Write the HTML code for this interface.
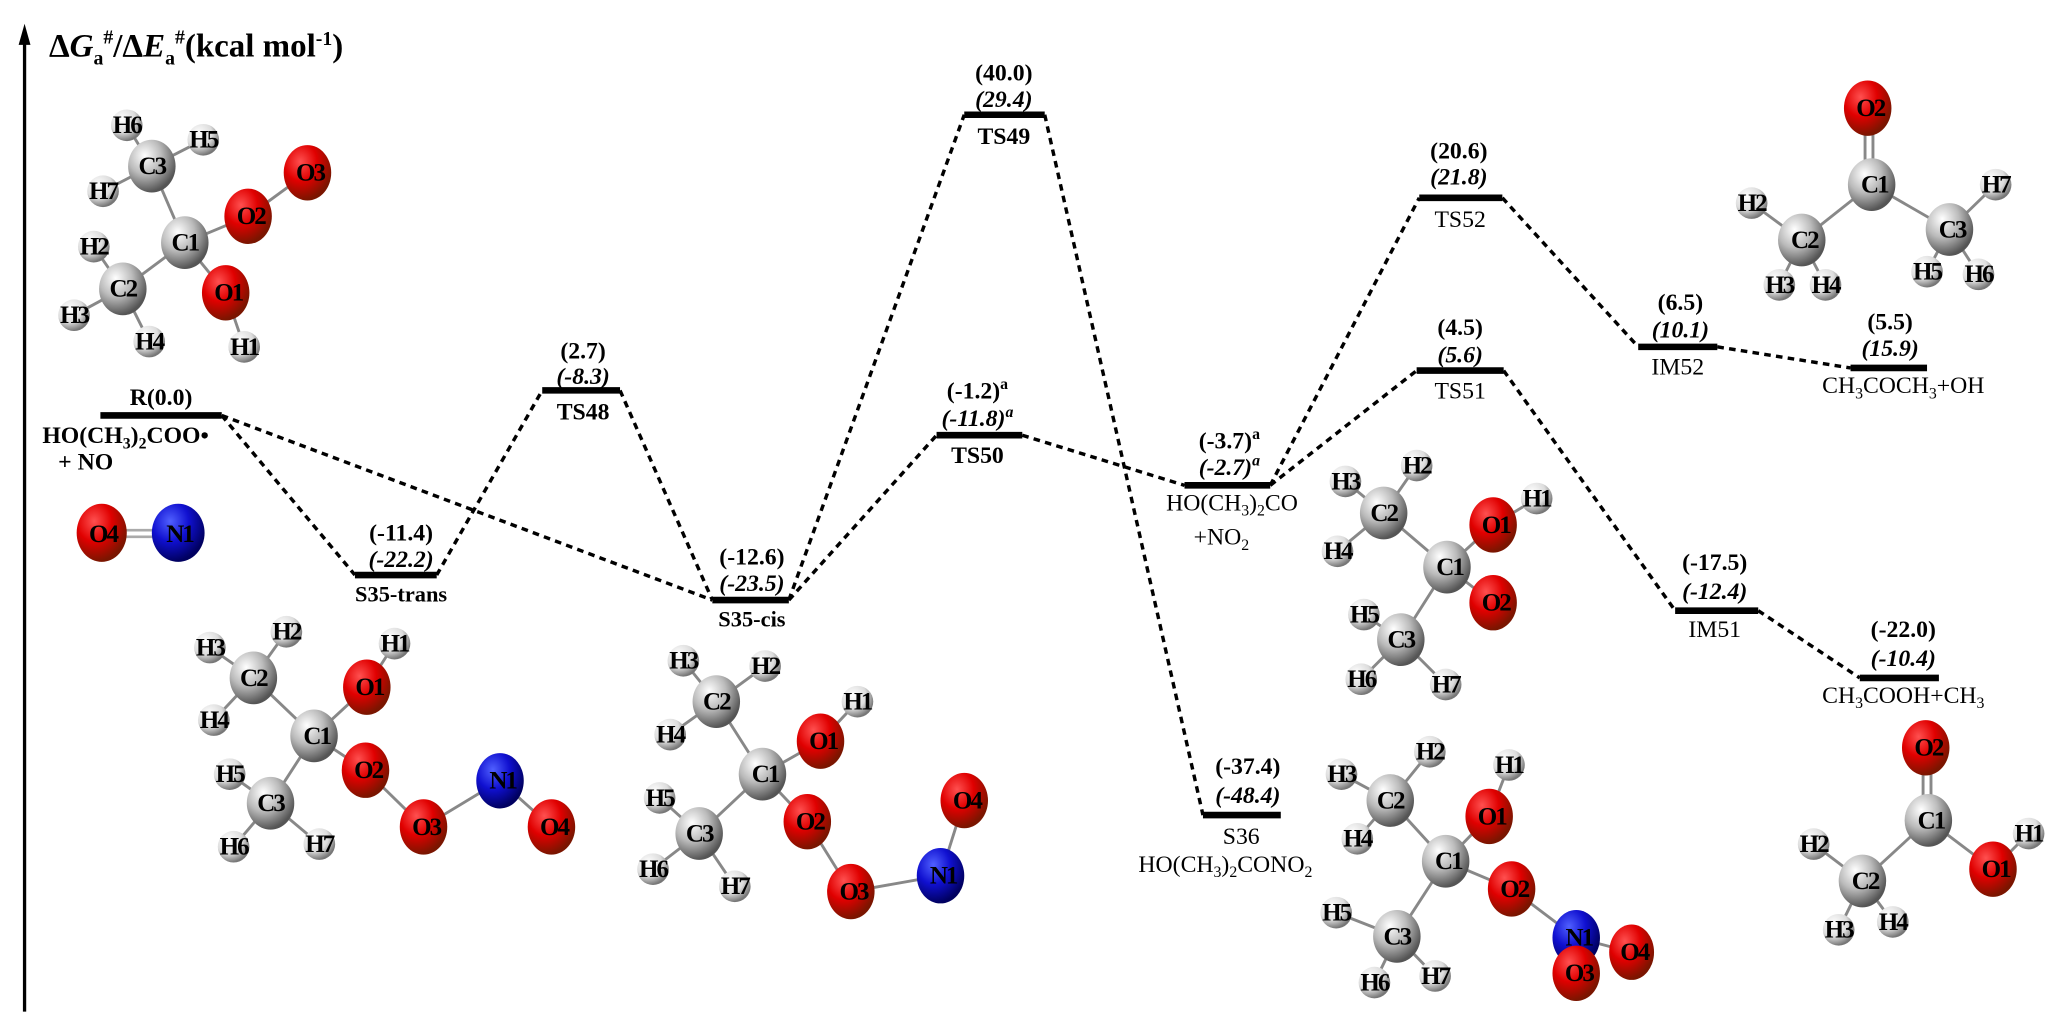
<!DOCTYPE html>
<html><head><meta charset="utf-8"><style>
html,body{margin:0;padding:0;background:#fff;}
svg{display:block;}
text{font-family:"Liberation Serif",serif;font-weight:bold;fill:#000;}
.v{font-size:18px;text-anchor:middle;}
.i{font-style:italic;}
.a{font-size:19px;text-anchor:middle;letter-spacing:-1.5px;}
.b{stroke:#000;stroke-width:5;}
.d{stroke:#000;stroke-width:2.6;stroke-dasharray:5 4;fill:none;}
.bd{stroke:#888;stroke-width:2.2;}
</style></head><body>
<svg width="2067" height="1034" viewBox="0 0 1567 784" xmlns="http://www.w3.org/2000/svg">
<defs>
<radialGradient id="gC" cx="35%" cy="30%" r="70%"><stop offset="0" stop-color="#fff"/><stop offset="0.5" stop-color="#bbb"/><stop offset="1" stop-color="#555"/></radialGradient>
<radialGradient id="gO" cx="35%" cy="30%" r="70%"><stop offset="0" stop-color="#ff5050"/><stop offset="0.5" stop-color="#e00000"/><stop offset="1" stop-color="#7a1500"/></radialGradient>
<radialGradient id="gN" cx="35%" cy="30%" r="70%"><stop offset="0" stop-color="#5060ff"/><stop offset="0.5" stop-color="#1010d0"/><stop offset="1" stop-color="#000060"/></radialGradient>
<radialGradient id="gH" cx="35%" cy="30%" r="70%"><stop offset="0" stop-color="#fff"/><stop offset="0.6" stop-color="#ddd"/><stop offset="1" stop-color="#777"/></radialGradient>
</defs>

<line x1="18.5" y1="30" x2="18.5" y2="767" stroke="#000" stroke-width="2.5"/>
<polygon points="18.5,18 14,34 23,34" fill="#000"/>
<text x="37" y="43" style="font-size:25px">Δ<tspan font-style="italic">G</tspan><tspan style="font-size:15px" dy="6">a</tspan><tspan style="font-size:15px" dy="-16">#</tspan><tspan dy="10">/Δ</tspan><tspan font-style="italic">E</tspan><tspan style="font-size:15px" dy="6">a</tspan><tspan style="font-size:15px" dy="-16">#</tspan><tspan dy="10">(kcal mol</tspan><tspan style="font-size:15px" dy="-9">-1</tspan><tspan dy="9">)</tspan></text>

<line class="d" x1="168" y1="315" x2="269" y2="436"/>
<line class="d" x1="168" y1="315" x2="540" y2="455"/>
<line class="d" x1="331" y1="436" x2="411" y2="296"/>
<line class="d" x1="470" y1="296" x2="540" y2="455"/>
<line class="d" x1="598" y1="455" x2="731" y2="87"/>
<line class="d" x1="598" y1="455" x2="710" y2="330"/>
<line class="d" x1="792" y1="87" x2="912" y2="618"/>
<line class="d" x1="775" y1="330" x2="898" y2="368"/>
<line class="d" x1="963" y1="368" x2="1076" y2="150"/>
<line class="d" x1="963" y1="368" x2="1074" y2="281"/>
<line class="d" x1="1139" y1="150" x2="1242" y2="263"/>
<line class="d" x1="1302" y1="263" x2="1403" y2="279"/>
<line class="d" x1="1140" y1="281" x2="1270" y2="463"/>
<line class="d" x1="1333" y1="463" x2="1410" y2="514"/>

<line class="b" x1="76" y1="315" x2="168" y2="315"/>
<text class="v" x="122" y="307">R(0.0)</text>
<text x="32" y="336" style="font-size:18px">HO(CH<tspan style="font-size:12px" dy="4">3</tspan><tspan dy="-4">)</tspan><tspan style="font-size:12px" dy="4">2</tspan><tspan dy="-4">COO•</tspan></text>
<text x="44" y="356" style="font-size:18px">+ NO</text>

<line class="b" x1="269" y1="436" x2="331" y2="436"/>
<text class="v" x="304" y="410">(-11.4)</text><text class="v i" x="304" y="430">(-22.2)</text>
<text class="v" x="304" y="456" style="font-size:17px">S35-trans</text>

<line class="b" x1="411" y1="296" x2="470" y2="296"/>
<text class="v" x="442" y="272">(2.7)</text><text class="v i" x="442" y="291">(-8.3)</text>
<text class="v" x="442" y="318">TS48</text>

<line class="b" x1="540" y1="455" x2="598" y2="455"/>
<text class="v" x="570" y="428">(-12.6)</text><text class="v i" x="570" y="448">(-23.5)</text>
<text class="v" x="570" y="475" style="font-size:17px">S35-cis</text>

<line class="b" x1="731" y1="87" x2="792" y2="87"/>
<text class="v" x="761" y="61">(40.0)</text><text class="v i" x="761" y="81">(29.4)</text>
<text class="v" x="761" y="109">TS49</text>

<line class="b" x1="710" y1="330" x2="775" y2="330"/>
<text class="v" x="741" y="302">(-1.2)<tspan style="font-size:12px" dy="-7">a</tspan></text>
<text class="v i" x="741" y="323">(-11.8)<tspan style="font-size:12px" dy="-7">a</tspan></text>
<text class="v" x="741" y="351">TS50</text>

<line class="b" x1="898" y1="368" x2="963" y2="368"/>
<text class="v" x="932" y="340">(-3.7)<tspan style="font-size:12px" dy="-7">a</tspan></text>
<text class="v i" x="932" y="360">(-2.7)<tspan style="font-size:12px" dy="-7">a</tspan></text>
<text class="v" x="934" y="387" style="font-weight:normal">HO(CH<tspan style="font-size:12px" dy="4">3</tspan><tspan dy="-4">)</tspan><tspan style="font-size:12px" dy="4">2</tspan><tspan dy="-4">CO</tspan></text>
<text class="v" x="926" y="413" style="font-weight:normal">+NO<tspan style="font-size:12px" dy="4">2</tspan></text>

<line class="b" x1="912" y1="618" x2="971" y2="618"/>
<text class="v" x="946" y="587">(-37.4)</text><text class="v i" x="946" y="609">(-48.4)</text>
<text class="v" x="941" y="640" style="font-weight:normal">S36</text>
<text class="v" x="929" y="661" style="font-weight:normal">HO(CH<tspan style="font-size:12px" dy="4">3</tspan><tspan dy="-4">)</tspan><tspan style="font-size:12px" dy="4">2</tspan><tspan dy="-4">CONO</tspan><tspan style="font-size:12px" dy="4">2</tspan></text>

<line class="b" x1="1076" y1="150" x2="1139" y2="150"/>
<text class="v" x="1106" y="120">(20.6)</text><text class="v i" x="1106" y="140">(21.8)</text>
<text class="v" x="1107" y="172" style="font-weight:normal">TS52</text>

<line class="b" x1="1074" y1="281" x2="1140" y2="281"/>
<text class="v" x="1107" y="254">(4.5)</text><text class="v i" x="1107" y="275">(5.6)</text>
<text class="v" x="1107" y="302" style="font-weight:normal">TS51</text>

<line class="b" x1="1242" y1="263" x2="1302" y2="263"/>
<text class="v" x="1274" y="235">(6.5)</text><text class="v i" x="1274" y="256">(10.1)</text>
<text class="v" x="1272" y="284" style="font-weight:normal">IM52</text>

<line class="b" x1="1403" y1="279" x2="1461" y2="279"/>
<text class="v" x="1433" y="250">(5.5)</text><text class="v i" x="1433" y="270">(15.9)</text>
<text class="v" x="1443" y="298" style="font-weight:normal">CH<tspan style="font-size:12px" dy="4">3</tspan><tspan dy="-4">COCH</tspan><tspan style="font-size:12px" dy="4">3</tspan><tspan dy="-4">+OH</tspan></text>

<line class="b" x1="1270" y1="463" x2="1333" y2="463"/>
<text class="v" x="1300" y="432">(-17.5)</text><text class="v i" x="1300" y="454">(-12.4)</text>
<text class="v" x="1300" y="483" style="font-weight:normal">IM51</text>

<line class="b" x1="1410" y1="514" x2="1470" y2="514"/>
<text class="v" x="1443" y="483">(-22.0)</text><text class="v i" x="1443" y="505">(-10.4)</text>
<text class="v" x="1443" y="533" style="font-weight:normal">CH<tspan style="font-size:12px" dy="4">3</tspan><tspan dy="-4">COOH+CH</tspan><tspan style="font-size:12px" dy="4">3</tspan></text>

<g>
<line class="bd" x1="115" y1="126" x2="96" y2="95"/><line class="bd" x1="115" y1="126" x2="154" y2="106"/><line class="bd" x1="115" y1="126" x2="78" y2="145"/><line class="bd" x1="115" y1="126" x2="140" y2="184"/>
<line class="bd" x1="140" y1="184" x2="188" y2="164"/><line class="bd" x1="188" y1="164" x2="233" y2="131"/><line class="bd" x1="140" y1="184" x2="93" y2="219"/><line class="bd" x1="140" y1="184" x2="171" y2="222"/>
<line class="bd" x1="93" y1="219" x2="71" y2="187"/><line class="bd" x1="93" y1="219" x2="56" y2="239"/><line class="bd" x1="93" y1="219" x2="113" y2="259"/><line class="bd" x1="171" y1="222" x2="185" y2="263"/>
<circle cx="96" cy="95" r="12" fill="url(#gH)"/><circle cx="154" cy="106" r="12" fill="url(#gH)"/><circle cx="78" cy="145" r="12" fill="url(#gH)"/>
<circle cx="71" cy="187" r="12" fill="url(#gH)"/><circle cx="56" cy="239" r="12" fill="url(#gH)"/><circle cx="113" cy="259" r="12" fill="url(#gH)"/><circle cx="185" cy="263" r="12" fill="url(#gH)"/>
<ellipse cx="115" cy="126" rx="18" ry="20" fill="url(#gC)"/><ellipse cx="140" cy="184" rx="18" ry="20" fill="url(#gC)"/><ellipse cx="93" cy="219" rx="18" ry="20" fill="url(#gC)"/>
<ellipse cx="233" cy="131" rx="18" ry="21" fill="url(#gO)"/><ellipse cx="188" cy="164" rx="18" ry="21" fill="url(#gO)"/><ellipse cx="171" cy="222" rx="18" ry="21" fill="url(#gO)"/>
<text class="a" x="96" y="101">H6</text><text class="a" x="154" y="112">H5</text><text class="a" x="78" y="151">H7</text><text class="a" x="71" y="193">H2</text><text class="a" x="56" y="245">H3</text><text class="a" x="113" y="265">H4</text><text class="a" x="185" y="269">H1</text>
<text class="a" x="115" y="132">C3</text><text class="a" x="140" y="190">C1</text><text class="a" x="93" y="225">C2</text>
<text class="a" x="235" y="137">O3</text><text class="a" x="190" y="170">O2</text><text class="a" x="173" y="228">O1</text>
</g>

<line x1="77" y1="402" x2="135" y2="402" stroke="#aaa" stroke-width="2"/><line x1="77" y1="407" x2="135" y2="407" stroke="#aaa" stroke-width="2"/>
<ellipse cx="77" cy="404" rx="19" ry="22" fill="url(#gO)"/><ellipse cx="135" cy="404" rx="20" ry="22" fill="url(#gN)"/>
<text class="a" x="78" y="411">O4</text><text class="a" x="136" y="411">N1</text>

<g>
<line class="bd" x1="192" y1="514" x2="159" y2="491"/><line class="bd" x1="192" y1="514" x2="217" y2="479"/><line class="bd" x1="192" y1="514" x2="162" y2="546"/><line class="bd" x1="192" y1="514" x2="238" y2="558"/>
<line class="bd" x1="238" y1="558" x2="278" y2="521"/><line class="bd" x1="278" y1="521" x2="299" y2="488"/><line class="bd" x1="238" y1="558" x2="277" y2="584"/><line class="bd" x1="238" y1="558" x2="205" y2="609"/>
<line class="bd" x1="277" y1="584" x2="321" y2="627"/><line class="bd" x1="321" y1="627" x2="379" y2="592"/><line class="bd" x1="379" y1="592" x2="418" y2="627"/>
<line class="bd" x1="205" y1="609" x2="174" y2="587"/><line class="bd" x1="205" y1="609" x2="177" y2="642"/><line class="bd" x1="205" y1="609" x2="242" y2="640"/>
<circle cx="159" cy="491" r="12" fill="url(#gH)"/><circle cx="217" cy="479" r="12" fill="url(#gH)"/><circle cx="299" cy="488" r="12" fill="url(#gH)"/><circle cx="162" cy="546" r="12" fill="url(#gH)"/><circle cx="174" cy="587" r="12" fill="url(#gH)"/><circle cx="177" cy="642" r="12" fill="url(#gH)"/><circle cx="242" cy="640" r="12" fill="url(#gH)"/>
<ellipse cx="192" cy="514" rx="18" ry="20" fill="url(#gC)"/><ellipse cx="238" cy="558" rx="18" ry="20" fill="url(#gC)"/><ellipse cx="205" cy="609" rx="18" ry="20" fill="url(#gC)"/>
<ellipse cx="278" cy="521" rx="18" ry="21" fill="url(#gO)"/><ellipse cx="277" cy="584" rx="18" ry="21" fill="url(#gO)"/><ellipse cx="321" cy="627" rx="18" ry="21" fill="url(#gO)"/><ellipse cx="418" cy="627" rx="18" ry="21" fill="url(#gO)"/>
<ellipse cx="379" cy="592" rx="18" ry="21" fill="url(#gN)"/>
<text class="a" x="159" y="497">H3</text><text class="a" x="217" y="485">H2</text><text class="a" x="299" y="494">H1</text><text class="a" x="162" y="552">H4</text><text class="a" x="174" y="593">H5</text><text class="a" x="177" y="648">H6</text><text class="a" x="242" y="646">H7</text>
<text class="a" x="192" y="520">C2</text><text class="a" x="240" y="564">C1</text><text class="a" x="205" y="615">C3</text>
<text class="a" x="280" y="527">O1</text><text class="a" x="279" y="590">O2</text><text class="a" x="323" y="633">O3</text><text class="a" x="420" y="633">O4</text><text class="a" x="381" y="598">N1</text>
</g>

<g>
<line class="bd" x1="543" y1="532" x2="518" y2="501"/><line class="bd" x1="543" y1="532" x2="580" y2="505"/><line class="bd" x1="543" y1="532" x2="508" y2="557"/><line class="bd" x1="543" y1="532" x2="578" y2="587"/>
<line class="bd" x1="578" y1="587" x2="622" y2="562"/><line class="bd" x1="622" y1="562" x2="650" y2="532"/><line class="bd" x1="578" y1="587" x2="612" y2="623"/><line class="bd" x1="578" y1="587" x2="530" y2="632"/>
<line class="bd" x1="612" y1="623" x2="645" y2="676"/><line class="bd" x1="645" y1="676" x2="713" y2="664"/><line class="bd" x1="713" y1="664" x2="731" y2="607"/>
<line class="bd" x1="530" y1="632" x2="500" y2="605"/><line class="bd" x1="530" y1="632" x2="495" y2="659"/><line class="bd" x1="530" y1="632" x2="557" y2="672"/>
<circle cx="518" cy="501" r="12" fill="url(#gH)"/><circle cx="580" cy="505" r="12" fill="url(#gH)"/><circle cx="650" cy="532" r="12" fill="url(#gH)"/><circle cx="508" cy="557" r="12" fill="url(#gH)"/><circle cx="500" cy="605" r="12" fill="url(#gH)"/><circle cx="495" cy="659" r="12" fill="url(#gH)"/><circle cx="557" cy="672" r="12" fill="url(#gH)"/>
<ellipse cx="543" cy="532" rx="18" ry="20" fill="url(#gC)"/><ellipse cx="578" cy="587" rx="18" ry="20" fill="url(#gC)"/><ellipse cx="530" cy="632" rx="18" ry="20" fill="url(#gC)"/>
<ellipse cx="622" cy="562" rx="18" ry="21" fill="url(#gO)"/><ellipse cx="612" cy="623" rx="18" ry="21" fill="url(#gO)"/><ellipse cx="645" cy="676" rx="18" ry="21" fill="url(#gO)"/><ellipse cx="731" cy="607" rx="18" ry="21" fill="url(#gO)"/>
<ellipse cx="713" cy="664" rx="18" ry="21" fill="url(#gN)"/>
<text class="a" x="518" y="507">H3</text><text class="a" x="580" y="511">H2</text><text class="a" x="650" y="538">H1</text><text class="a" x="508" y="563">H4</text><text class="a" x="500" y="611">H5</text><text class="a" x="495" y="665">H6</text><text class="a" x="557" y="678">H7</text>
<text class="a" x="543" y="538">C2</text><text class="a" x="580" y="593">C1</text><text class="a" x="530" y="638">C3</text>
<text class="a" x="624" y="568">O1</text><text class="a" x="614" y="629">O2</text><text class="a" x="647" y="682">O3</text><text class="a" x="733" y="613">O4</text><text class="a" x="715" y="670">N1</text>
</g>

<g>
<line class="bd" x1="1049" y1="389" x2="1020" y2="365"/><line class="bd" x1="1049" y1="389" x2="1074" y2="353"/><line class="bd" x1="1049" y1="389" x2="1014" y2="418"/><line class="bd" x1="1049" y1="389" x2="1097" y2="430"/>
<line class="bd" x1="1097" y1="430" x2="1132" y2="398"/><line class="bd" x1="1132" y1="398" x2="1165" y2="378"/><line class="bd" x1="1097" y1="430" x2="1132" y2="457"/><line class="bd" x1="1097" y1="430" x2="1062" y2="485"/>
<line class="bd" x1="1062" y1="485" x2="1034" y2="466"/><line class="bd" x1="1062" y1="485" x2="1032" y2="515"/><line class="bd" x1="1062" y1="485" x2="1096" y2="519"/>
<circle cx="1020" cy="365" r="12" fill="url(#gH)"/><circle cx="1074" cy="353" r="12" fill="url(#gH)"/><circle cx="1165" cy="378" r="12" fill="url(#gH)"/><circle cx="1014" cy="418" r="12" fill="url(#gH)"/><circle cx="1034" cy="466" r="12" fill="url(#gH)"/><circle cx="1032" cy="515" r="12" fill="url(#gH)"/><circle cx="1096" cy="519" r="12" fill="url(#gH)"/>
<ellipse cx="1049" cy="389" rx="18" ry="20" fill="url(#gC)"/><ellipse cx="1097" cy="430" rx="18" ry="20" fill="url(#gC)"/><ellipse cx="1062" cy="485" rx="18" ry="20" fill="url(#gC)"/>
<ellipse cx="1132" cy="398" rx="18" ry="21" fill="url(#gO)"/><ellipse cx="1132" cy="457" rx="18" ry="21" fill="url(#gO)"/>
<text class="a" x="1020" y="371">H3</text><text class="a" x="1074" y="359">H2</text><text class="a" x="1165" y="384">H1</text><text class="a" x="1014" y="424">H4</text><text class="a" x="1034" y="472">H5</text><text class="a" x="1032" y="521">H6</text><text class="a" x="1096" y="525">H7</text>
<text class="a" x="1049" y="395">C2</text><text class="a" x="1099" y="436">C1</text><text class="a" x="1062" y="491">C3</text>
<text class="a" x="1134" y="404">O1</text><text class="a" x="1134" y="463">O2</text>
</g>

<g>
<line class="bd" x1="1054" y1="607" x2="1017" y2="587"/><line class="bd" x1="1054" y1="607" x2="1084" y2="570"/><line class="bd" x1="1054" y1="607" x2="1029" y2="636"/><line class="bd" x1="1054" y1="607" x2="1096" y2="653"/>
<line class="bd" x1="1096" y1="653" x2="1129" y2="619"/><line class="bd" x1="1129" y1="619" x2="1144" y2="580"/><line class="bd" x1="1096" y1="653" x2="1146" y2="674"/><line class="bd" x1="1096" y1="653" x2="1059" y2="710"/>
<line class="bd" x1="1146" y1="674" x2="1195" y2="711"/><line class="bd" x1="1195" y1="711" x2="1237" y2="722"/>
<line class="bd" x1="1059" y1="710" x2="1013" y2="692"/><line class="bd" x1="1059" y1="710" x2="1042" y2="745"/><line class="bd" x1="1059" y1="710" x2="1088" y2="740"/>
<circle cx="1084" cy="570" r="12" fill="url(#gH)"/><circle cx="1017" cy="587" r="12" fill="url(#gH)"/><circle cx="1144" cy="580" r="12" fill="url(#gH)"/><circle cx="1029" cy="636" r="12" fill="url(#gH)"/><circle cx="1013" cy="692" r="12" fill="url(#gH)"/><circle cx="1042" cy="745" r="12" fill="url(#gH)"/><circle cx="1088" cy="740" r="12" fill="url(#gH)"/>
<ellipse cx="1054" cy="607" rx="18" ry="20" fill="url(#gC)"/><ellipse cx="1096" cy="653" rx="18" ry="20" fill="url(#gC)"/><ellipse cx="1059" cy="710" rx="18" ry="20" fill="url(#gC)"/>
<ellipse cx="1129" cy="619" rx="18" ry="21" fill="url(#gO)"/><ellipse cx="1146" cy="674" rx="18" ry="21" fill="url(#gO)"/>
<ellipse cx="1195" cy="711" rx="18" ry="21" fill="url(#gN)"/><ellipse cx="1237" cy="722" rx="17" ry="21" fill="url(#gO)"/><ellipse cx="1195" cy="738" rx="18" ry="21" fill="url(#gO)"/>
<text class="a" x="1084" y="576">H2</text><text class="a" x="1017" y="593">H3</text><text class="a" x="1144" y="586">H1</text><text class="a" x="1029" y="642">H4</text><text class="a" x="1013" y="698">H5</text><text class="a" x="1042" y="751">H6</text><text class="a" x="1088" y="746">H7</text>
<text class="a" x="1054" y="613">C2</text><text class="a" x="1098" y="659">C1</text><text class="a" x="1059" y="716">C3</text>
<text class="a" x="1131" y="625">O1</text><text class="a" x="1148" y="680">O2</text><text class="a" x="1197" y="717">N1</text><text class="a" x="1239" y="728">O4</text><text class="a" x="1197" y="744">O3</text>
</g>

<g>
<line class="bd" x1="1414" y1="82" x2="1414" y2="140"/><line class="bd" x1="1420" y1="82" x2="1420" y2="140"/>
<line class="bd" x1="1419" y1="140" x2="1366" y2="182"/><line class="bd" x1="1419" y1="140" x2="1478" y2="174"/>
<line class="bd" x1="1366" y1="182" x2="1328" y2="154"/><line class="bd" x1="1366" y1="182" x2="1349" y2="216"/><line class="bd" x1="1366" y1="182" x2="1384" y2="216"/>
<line class="bd" x1="1478" y1="174" x2="1513" y2="140"/><line class="bd" x1="1478" y1="174" x2="1461" y2="206"/><line class="bd" x1="1478" y1="174" x2="1500" y2="208"/>
<circle cx="1328" cy="154" r="12" fill="url(#gH)"/><circle cx="1349" cy="216" r="12" fill="url(#gH)"/><circle cx="1384" cy="216" r="12" fill="url(#gH)"/><circle cx="1513" cy="140" r="12" fill="url(#gH)"/><circle cx="1461" cy="206" r="12" fill="url(#gH)"/><circle cx="1500" cy="208" r="12" fill="url(#gH)"/>
<ellipse cx="1419" cy="140" rx="18" ry="20" fill="url(#gC)"/><ellipse cx="1366" cy="182" rx="18" ry="20" fill="url(#gC)"/><ellipse cx="1478" cy="174" rx="18" ry="20" fill="url(#gC)"/>
<ellipse cx="1416" cy="82" rx="18" ry="21" fill="url(#gO)"/>
<text class="a" x="1328" y="160">H2</text><text class="a" x="1349" y="222">H3</text><text class="a" x="1384" y="222">H4</text><text class="a" x="1513" y="146">H7</text><text class="a" x="1461" y="212">H5</text><text class="a" x="1500" y="214">H6</text>
<text class="a" x="1421" y="146">C1</text><text class="a" x="1368" y="188">C2</text><text class="a" x="1480" y="180">C3</text><text class="a" x="1418" y="88">O2</text>
</g>

<g>
<line class="bd" x1="1458" y1="567" x2="1458" y2="622"/><line class="bd" x1="1464" y1="567" x2="1464" y2="622"/>
<line class="bd" x1="1462" y1="622" x2="1412" y2="668"/><line class="bd" x1="1462" y1="622" x2="1511" y2="659"/><line class="bd" x1="1511" y1="659" x2="1538" y2="632"/>
<line class="bd" x1="1412" y1="668" x2="1375" y2="640"/><line class="bd" x1="1412" y1="668" x2="1394" y2="705"/><line class="bd" x1="1412" y1="668" x2="1435" y2="699"/>
<circle cx="1538" cy="632" r="12" fill="url(#gH)"/><circle cx="1375" cy="640" r="12" fill="url(#gH)"/><circle cx="1394" cy="705" r="12" fill="url(#gH)"/><circle cx="1435" cy="699" r="12" fill="url(#gH)"/>
<ellipse cx="1462" cy="622" rx="18" ry="20" fill="url(#gC)"/><ellipse cx="1412" cy="668" rx="18" ry="20" fill="url(#gC)"/>
<ellipse cx="1460" cy="567" rx="18" ry="21" fill="url(#gO)"/><ellipse cx="1511" cy="659" rx="18" ry="21" fill="url(#gO)"/>
<text class="a" x="1538" y="638">H1</text><text class="a" x="1375" y="646">H2</text><text class="a" x="1394" y="711">H3</text><text class="a" x="1435" y="705">H4</text>
<text class="a" x="1464" y="628">C1</text><text class="a" x="1414" y="674">C2</text><text class="a" x="1462" y="573">O2</text><text class="a" x="1513" y="665">O1</text>
</g>
</svg>
</body></html>
